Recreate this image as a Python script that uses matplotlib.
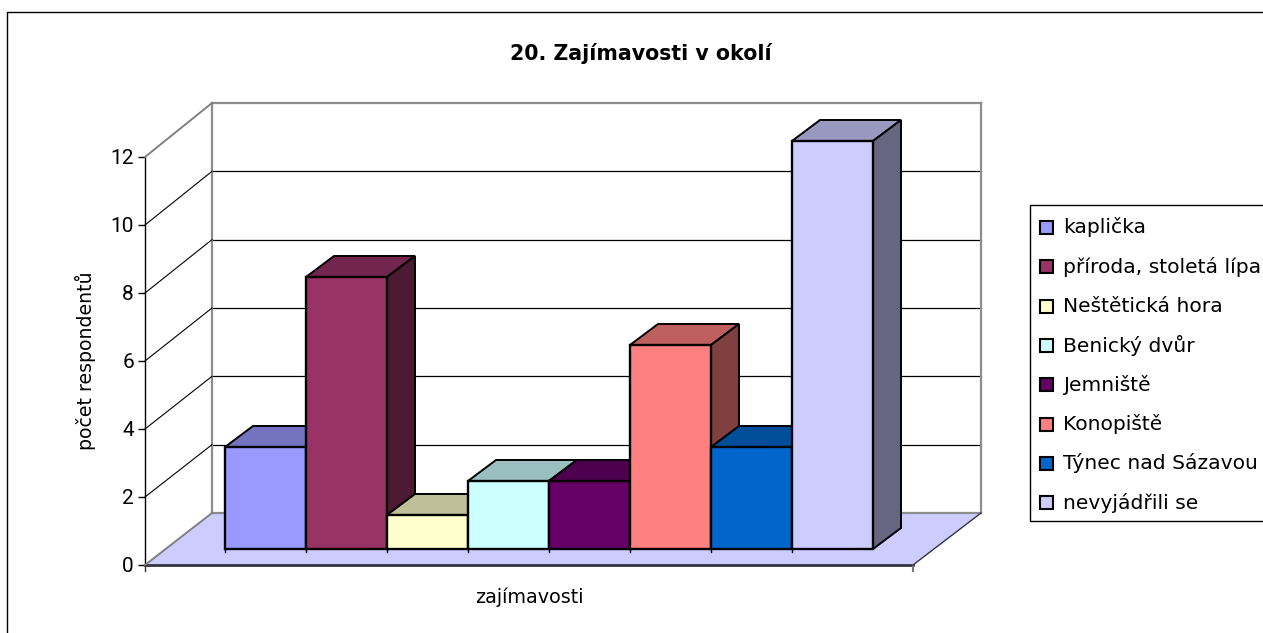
import matplotlib
matplotlib.use('Agg')
import matplotlib.pyplot as plt
from matplotlib.colors import to_rgb
from matplotlib.patches import Polygon, Rectangle
from matplotlib.transforms import Affine2D

W, H = 1263, 633

names = ['kaplička', 'příroda, stoletá lípa', 'Neštětická hora', 'Benický dvůr',
         'Jemniště', 'Konopiště', 'Týnec nad Sázavou', 'nevyjádřili se']
values = [3, 8, 1, 2, 2, 6, 3, 12]
colors = ['#9999FF', '#993366', '#FFFFCC', '#CCFFFF',
          '#660066', '#FF8080', '#0066CC', '#CCCCFF']
yticks = [0, 2, 4, 6, 8, 10, 12]

plt.rcParams['font.family'] = ['DejaVu Sans']
fig = plt.figure(figsize=(W / 100, H / 100), dpi=100)


def shade(color, k):
    return tuple(c * k for c in to_rgb(color))


# axes box is the front plane of the 3d chart
ax = fig.add_axes([145 / W, 1 - 565 / H, 768 / W, 408 / H])
ax.patch.set_visible(False)
ax.set_xlim((145 - 225) / 81, (913 - 225) / 81)
ax.set_ylim(0, 12)
for s in ['top', 'right', 'bottom']:
    ax.spines[s].set_visible(False)
ax.spines['left'].set_linewidth(1)
ax.set_yticks(yticks)
ax.set_xticks([])
ax.tick_params(axis='y', length=5, width=1, pad=3)
for lab in ax.get_yticklabels():
    lab.set_fontfamily(['Roboto', 'DejaVu Sans'])
    lab.set_fontsize(15)
ax.set_ylabel('počet respondentů', fontsize=13.6, labelpad=10)
ax.set_xlabel('zajímavosti', fontsize=13.8, labelpad=16)

x0, x1 = ax.get_xlim()
wall_k = 410 / 408  # back wall is a touch taller than the front plane
to_back = ax.transData + Affine2D().translate(67, 52)
to_bars = ax.transData + Affine2D().translate(0, 16)
dx, dy = 28 / 81, 21 / 34

# floor and walls
floor_px = [(145, 633 - 565), (913, 633 - 565), (981, 633 - 513), (212, 633 - 513)]
fig.add_artist(Polygon([(x / W, y / H) for x, y in floor_px], closed=True,
                       transform=fig.transFigure, fc='#CCCCFF', ec='none', zorder=0))
ax.plot([x0, x1], [0, 0], color='#333340', lw=2, clip_on=False, zorder=1)
ax.plot([x0, x0], [0, -0.18], color='#333333', lw=1, clip_on=False, zorder=1)
ax.plot([x1, x1], [0, -0.18], color='#777777', lw=1.5, clip_on=False, zorder=1)
for v in yticks:
    gray = v in (0, 12)
    ax.plot([x0, x1 + 1 / 81], [v * wall_k, v * wall_k], transform=to_back, clip_on=False, zorder=1,
            color='#8c8c8c' if gray else 'black', lw=1.6 if gray else 0.9)
    fig.add_artist(plt.Line2D([145 / W, 212 / W],
                              [(633 - 565 + v * 34) / H, (633 - 513 + v * 34.17) / H],
                              transform=fig.transFigure, zorder=1,
                              color='#808080' if gray else 'black', lw=1.4 if gray else 0.8))
for x in (x0, x1 + 1 / 81):
    ax.plot([x, x], [0, 12 * wall_k], transform=to_back, color='#8c8c8c', lw=1.6, clip_on=False, zorder=1)
fig.add_artist(plt.Line2D([913 / W, 981 / W], [(633 - 565) / H, (633 - 513) / H],
                          transform=fig.transFigure, color='#333340', lw=1, zorder=1))

# bars, left to right so the next front face covers the side of the last one
for i, (v, c) in enumerate(zip(values, colors)):
    z = 3 + i
    ax.add_patch(Polygon([(i, v), (i + 1, v), (i + 1 + dx, v + dy), (i + dx, v + dy)],
                         fc=shade(c, 0.75), ec='black', lw=1.4, transform=to_bars,
                         clip_on=False, zorder=z))
    ax.add_patch(Polygon([(i + 1, 0), (i + 1 + dx, dy), (i + 1 + dx, v + dy), (i + 1, v)],
                         fc=shade(c, 0.5), ec='black', lw=1.4, transform=to_bars,
                         clip_on=False, zorder=z))
    ax.add_patch(Rectangle((i, 0), 1, v, fc=c, ec='black', lw=1.7, transform=to_bars,
                           clip_on=False, zorder=z + 0.5))
    ax.plot([i, i], [-0.08, 0], color='black', lw=1, transform=to_bars, clip_on=False, zorder=z)

fig.text(641 / W, 1 - 53 / H, '20. Zajímavosti v okolí', ha='center', va='center',
         fontsize=14.8, fontweight='bold')

# legend box runs off the right edge
fig.add_artist(Rectangle((1030 / W, 1 - 521 / H), 240 / W, 316 / H, transform=fig.transFigure,
                         fc='white', ec='black', lw=1))
for i, (n, c) in enumerate(zip(names, colors)):
    yc = 227.5 + i * 39.3
    fig.add_artist(Rectangle((1040 / W, 1 - (yc + 6.5) / H), 13 / W, 13 / H,
                             transform=fig.transFigure, fc=c, ec='black', lw=1.5))
    fig.text(1063 / W, 1 - yc / H, n, ha='left', va='center', fontsize=14.6)

# outer chart frame
fig.add_artist(plt.Line2D([7 / W, 7 / W, 1], [0, 1 - 12 / H, 1 - 12 / H],
                          transform=fig.transFigure, color='black', lw=1))

fig.savefig('out.png', dpi=100)
